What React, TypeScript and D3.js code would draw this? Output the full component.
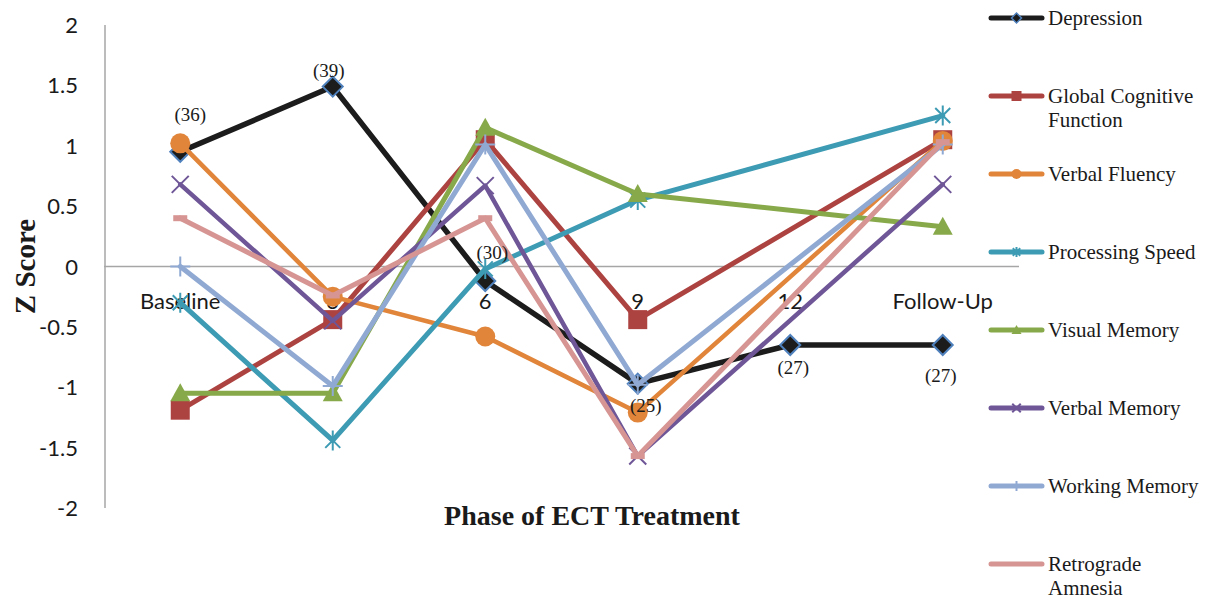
import React from "react";
import * as d3 from "d3";

// Phases of ECT treatment (x categories)
const categories = ["Baseline", "3", "6", "9", "12", "Follow-Up"];

// Z scores per phase; null = not measured at that phase
const depression = [0.95, 1.49, -0.12, -0.97, -0.65, -0.65];
const globalCognitive = [-1.19, -0.44, 1.05, -0.44, null, 1.05];
const verbalFluency = [1.02, -0.25, -0.58, -1.21, null, 1.04];
const processingSpeed = [-0.3, -1.44, -0.02, 0.55, null, 1.25];
const visualMemory = [-1.05, -1.05, 1.15, 0.6, null, 0.33];
const verbalMemory = [0.68, -0.45, 0.67, -1.57, null, 0.68];
const workingMemory = [0, -0.99, 1.01, -0.98, null, 1.01];
const retrogradeAmnesia = [0.4, -0.24, 0.4, -1.57, null, 1.03];

// Sample sizes shown next to the depression points
const depressionLabels = ["(36)", "(39)", "(30)", "(25)", "(27)", "(27)"];

// Y axis ticks
const yTicks = [2, 1.5, 1, 0.5, 0, -0.5, -1, -1.5, -2];

const seriesNames = [
  "Depression",
  "Global Cognitive Function",
  "Verbal Fluency",
  "Processing Speed",
  "Visual Memory",
  "Verbal Memory",
  "Working Memory",
  "Retrograde Amnesia",
];
const legendLines = [
  ["Depression"],
  ["Global Cognitive", "Function"],
  ["Verbal Fluency"],
  ["Processing Speed"],
  ["Visual Memory"],
  ["Verbal Memory"],
  ["Working Memory"],
  ["Retrograde", "Amnesia"],
];

const seriesValues = [
  depression,
  globalCognitive,
  verbalFluency,
  processingSpeed,
  visualMemory,
  verbalMemory,
  workingMemory,
  retrogradeAmnesia,
];

type MarkerKind = "diamond" | "square" | "circle" | "asterisk" | "triangle" | "x" | "plus" | "dash";

const styles: { color: string; width: number; marker: MarkerKind }[] = [
  { color: "#1c1c1c", width: 5.5, marker: "diamond" },
  { color: "#ad4341", width: 5, marker: "square" },
  { color: "#e0853a", width: 4.5, marker: "circle" },
  { color: "#3d9bb3", width: 5, marker: "asterisk" },
  { color: "#88a94a", width: 5, marker: "triangle" },
  { color: "#6e5697", width: 4.5, marker: "x" },
  { color: "#8fa9d3", width: 5, marker: "plus" },
  { color: "#d69592", width: 5, marker: "dash" },
];

// Offsets of the depression labels from their points (label centre)
const labelOffsets: [number, number][] = [
  [10, -37],
  [-4, -16],
  [7, -28],
  [8, 22],
  [3, 23],
  [-2, 31],
];

const W = 1221;
const H = 601;
const plotLeft = 104;
const plotRight = 1019;
const plotTop = 25;
const plotBottom = 508;

const x = d3.scaleBand<string>().domain(categories).range([plotLeft, plotRight]);
const cx = (c: string) => (x(c) as number) + x.bandwidth() / 2;
const y = d3.scaleLinear().domain([-2, 2]).range([plotBottom, plotTop]);

const lineGen = d3
  .line<[number, number]>()
  .x((d) => d[0])
  .y((d) => d[1]);

function Marker({ kind, px, py, s, color }: { kind: MarkerKind; px: number; py: number; s: number; color: string }) {
  switch (kind) {
    case "diamond":
      return (
        <path
          d={`M${px},${py - s}L${px + s},${py}L${px},${py + s}L${px - s},${py}Z`}
          fill="#1c1c1c"
          stroke="#4f81bd"
          strokeWidth={s > 7 ? 2 : 1.5}
        />
      );
    case "square":
      return <rect x={px - s} y={py - s} width={2 * s} height={2 * s} fill={color} />;
    case "circle":
      return <circle cx={px} cy={py} r={s} fill={color} />;
    case "triangle":
      return (
        <path
          d={`M${px},${py - s}L${px + s},${py + s * 0.8}L${px - s},${py + s * 0.8}Z`}
          fill={color}
        />
      );
    case "asterisk": {
      const k = s * 0.75;
      return (
        <path
          d={`M${px - k},${py - k}L${px + k},${py + k}M${px - k},${py + k}L${px + k},${py - k}M${px},${py - s}L${px},${py + s}`}
          stroke={color}
          strokeWidth={2}
          fill="none"
        />
      );
    }
    case "x": {
      const k = s * 0.85;
      return (
        <path
          d={`M${px - k},${py - k}L${px + k},${py + k}M${px - k},${py + k}L${px + k},${py - k}`}
          stroke={color}
          strokeWidth={2}
          fill="none"
        />
      );
    }
    case "plus":
      return (
        <path
          d={`M${px - s},${py}L${px + s},${py}M${px},${py - s}L${px},${py + s}`}
          stroke={color}
          strokeWidth={2}
          fill="none"
        />
      );
    case "dash":
      return <rect x={px - s} y={py - 3} width={2 * s} height={6} fill={color} />;
  }
  return null;
}

export default function App() {
  const zeroY = y(0);
  return (
    <svg
      width={W}
      height={H}
      viewBox={`0 0 ${W} ${H}`}
      style={{ position: "absolute", left: 0, top: 0, background: "#fff" }}
    >
      <rect width={W} height={H} fill="#fff" />

      {/* y axis */}
      <line x1={plotLeft + 1} x2={plotLeft + 1} y1={plotTop} y2={plotBottom} stroke="#a6a6a6" strokeWidth={1.5} />
      {yTicks.map((t) => (
        <text
          key={t}
          x={78}
          y={y(t) + 8}
          textAnchor="end"
          fontFamily="Lato, 'Open Sans', sans-serif"
          fontSize={22}
          fill="#1a1a1a"
        >
          {String(t)}
        </text>
      ))}

      {/* zero line / category axis */}
      <line x1={plotLeft} x2={plotRight} y1={zeroY} y2={zeroY} stroke="#a6a6a6" strokeWidth={1.5} />
      {categories.map((c) => (
        <text
          key={c}
          x={cx(c)}
          y={zeroY + 42}
          textAnchor="middle"
          fontFamily="Lato, 'Open Sans', sans-serif"
          fontSize={22}
          fill="#1a1a1a"
        >
          {c}
        </text>
      ))}

      {/* axis titles */}
      <text
        transform={`translate(35,${(plotTop + plotBottom) / 2}) rotate(-90)`}
        textAnchor="middle"
        fontFamily="'Liberation Serif', 'Times New Roman', serif"
        fontWeight="bold"
        fontSize={29}
        fill="#1a1a1a"
      >
        Z Score
      </text>
      <text
        x={592}
        y={525}
        textAnchor="middle"
        fontFamily="'Liberation Serif', 'Times New Roman', serif"
        fontWeight="bold"
        fontSize={28}
        fill="#1a1a1a"
      >
        Phase of ECT Treatment
      </text>

      {/* series lines and markers */}
      {seriesValues.map((vals, i) => {
        const pts: [number, number][] = [];
        vals.forEach((v, j) => {
          if (v !== null) pts.push([cx(categories[j]), y(v)]);
        });
        const st = styles[i];
        return (
          <g key={seriesNames[i]}>
            <path
              d={lineGen(pts) || ""}
              fill="none"
              stroke={st.color}
              strokeWidth={st.width}
              strokeLinejoin="round"
              strokeLinecap="round"
            />
            {pts.map((p, j) => (
              <Marker
                key={j}
                kind={st.marker}
                px={p[0]}
                py={p[1]}
                s={st.marker === "dash" ? 7 : st.marker === "square" ? 9.5 : 10}
                color={st.color}
              />
            ))}
          </g>
        );
      })}

      {/* depression sample-size labels */}
      {depression.map((v, j) => (
        <text
          key={j}
          x={cx(categories[j]) + labelOffsets[j][0]}
          y={y(v) + labelOffsets[j][1] + 6}
          textAnchor="middle"
          fontFamily="'Liberation Serif', 'Times New Roman', serif"
          fontSize={19}
          fill="#1a1a1a"
        >
          {depressionLabels[j]}
        </text>
      ))}

      {/* legend */}
      {seriesNames.map((name, i) => {
        const ly = 18 + i * 78;
        const st = styles[i];
        return (
          <g key={name}>
            <line x1={991} x2={1042} y1={ly} y2={ly} stroke={st.color} strokeWidth={5} strokeLinecap="round" />
            {st.marker !== "dash" && (
              <Marker
                kind={st.marker}
                px={1016.5}
                py={ly}
                s={st.marker === "circle" ? 5 : st.marker === "diamond" ? 5 : 5}
                color={st.color}
              />
            )}
            {legendLines[i].map((ln, k) => (
              <text
                key={k}
                x={1048}
                y={ly + 7 + k * 24}
                fontFamily="'Liberation Serif', 'Times New Roman', serif"
                fontSize={21}
                fill="#1a1a1a"
              >
                {ln}
              </text>
            ))}
          </g>
        );
      })}
    </svg>
  );
}
